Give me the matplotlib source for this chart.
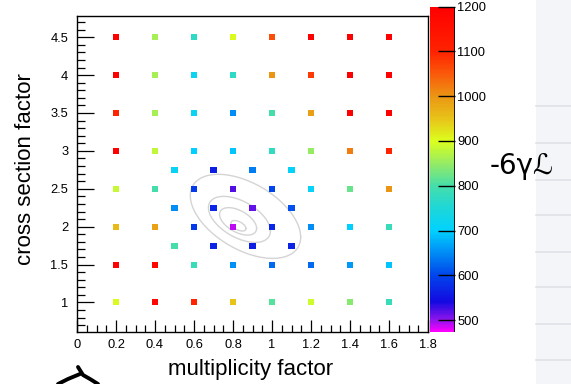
import numpy as np
import matplotlib
matplotlib.use("Agg")
import matplotlib.pyplot as plt
from matplotlib.colors import LinearSegmentedColormap, Normalize
from matplotlib.lines import Line2D
from matplotlib.patches import Rectangle

plt.rcParams['font.family'] = ['Liberation Sans', 'DejaVu Sans']

# ---------------- data ----------------
grid_x = [0.2, 0.4, 0.6, 0.8, 1.0, 1.2, 1.4, 1.6]
grid_y = [1.0, 1.5, 2.0, 2.5, 3.0, 3.5, 4.0, 4.5]
grid_vals = [
    [905, 1180, 1100, 950, 810, 890, 840, 785],     # y = 1.0
    [1200, 1180, 785, 655, 625, 625, 660, 690],     # y = 1.5
    [960, 985, 590, 490, 570, 650, 700, 785],       # y = 2.0
    [885, 800, 590, 520, 600, 710, 820, 1000],      # y = 2.5
    [1200, 880, 700, 690, 775, 850, 1020, 1100],    # y = 3.0
    [1100, 860, 720, 650, 800, 990, 1200, 1200],    # y = 3.5
    [1200, 860, 720, 770, 1000, 1080, 1200, 1200],  # y = 4.0
    [1200, 860, 770, 905, 1060, 1200, 1200, 1200],  # y = 4.5
]
fine_x = [0.5, 0.7, 0.9, 1.1]
fine_y = [1.75, 2.25, 2.75]
fine_vals = [
    [800, 565, 560, 565],   # y = 1.75
    [650, 570, 515, 610],   # y = 2.25
    [715, 560, 640, 705],   # y = 2.75
]

# contour ellipses: centre x, centre y, half-width x, half-height y, tilt
contour_cx = [0.828, 0.826, 0.833, 0.864]
contour_cy = [2.012, 2.070, 2.096, 2.136]
contour_rx = [0.0386, 0.095, 0.159, 0.283]
contour_ry = [0.059, 0.156, 0.262, 0.483]
contour_tilt = [-0.037, -0.092, -0.154, -0.273]

xtick_vals = [0, 0.2, 0.4, 0.6, 0.8, 1.0, 1.2, 1.4, 1.6, 1.8]
xtick_labels = ["0", "0.2", "0.4", "0.6", "0.8", "1", "1.2", "1.4", "1.6", "1.8"]
ytick_vals = [1, 1.5, 2, 2.5, 3, 3.5, 4, 4.5]
ytick_labels = ["1", "1.5", "2", "2.5", "3", "3.5", "4", "4.5"]
cbar_ticks = [500, 600, 700, 800, 900, 1000, 1100, 1200]
zmin, zmax = 474, 1200

# palette (ROOT "pretty" rainbow)
pal_vals = [474, 500, 540, 600, 650, 700, 750, 800, 850, 900, 950, 1000, 1050, 1100, 1200]
pal_cols = ["#fa00ff", "#8c14eb", "#140ae1", "#0046eb", "#008cf5", "#00d2ff",
            "#1ed7d7", "#46deaa", "#96eb64", "#dcff1e", "#e8c319", "#eb9614",
            "#fa5a0a", "#ff2300", "#ff0000"]

# ---------------- figure ----------------
W, H = 571, 384
fig = plt.figure(figsize=(W / 100, H / 100), dpi=100)
fig.patch.set_facecolor("white")

# lined-paper strip on the right
fig.patches.append(Rectangle((536 / W, 0), 1 - 536 / W, 1, transform=fig.transFigure,
                             facecolor="#f4f5f9", edgecolor="none", zorder=0))
for ly in [106, 143, 180, 215, 252, 287, 324, 360]:
    fig.lines.append(Line2D([536 / W, 1], [1 - ly / H, 1 - ly / H], transform=fig.transFigure,
                            color="#dfe1e8", lw=1.2, zorder=0.5))

ax = fig.add_axes([77 / W, 1 - 332 / H, (428 - 77) / W, (332 - 16) / H])
cmap = LinearSegmentedColormap.from_list(
    "pretty", [((v - zmin) / (zmax - zmin), c) for v, c in zip(pal_vals, pal_cols)])
norm = Normalize(vmin=zmin, vmax=zmax)

gx, gy = np.meshgrid(grid_x, grid_y)
ax.scatter(gx.ravel(), gy.ravel(), c=np.array(grid_vals).ravel(), cmap=cmap, norm=norm,
           marker="s", s=19, linewidths=0, zorder=3)
fx, fy = np.meshgrid(fine_x, fine_y)
sc = ax.scatter(fx.ravel(), fy.ravel(), c=np.array(fine_vals).ravel(), cmap=cmap, norm=norm,
                marker="s", s=19, linewidths=0, zorder=3)

t = np.linspace(0, 2 * np.pi, 300)
for cx, cy, rx, ry, k in zip(contour_cx, contour_cy, contour_rx, contour_ry, contour_tilt):
    ax.plot(cx + rx * np.cos(t), cy + ry * np.sin(t) + k * np.cos(t),
            color="#d4d4d4", lw=1.0, zorder=2)

ax.set_xlim(0, 1.8)
ax.set_ylim(0.61, 4.78)
ax.set_xticks(xtick_vals)
ax.set_xticklabels(xtick_labels)
ax.set_yticks(ytick_vals)
ax.set_yticklabels(ytick_labels)
ax.set_xticks(np.arange(0, 1.8001, 0.05), minor=True)
ax.set_yticks(np.arange(0.7, 4.78, 0.1), minor=True)
ax.tick_params(axis="both", which="both", direction="in", top=False, right=False,
               labelsize=9.3, colors="black", width=0.9)
ax.tick_params(axis="y", which="major", length=12, pad=6.3)
ax.tick_params(axis="y", which="minor", length=6)
ax.tick_params(axis="x", which="major", length=9, pad=5)
ax.tick_params(axis="x", which="minor", length=5)
for s in ax.spines.values():
    s.set_linewidth(1.0)
ax.set_xlabel("multiplicity factor", fontsize=16)
ax.xaxis.set_label_coords(0.495, -0.087)
ax.set_ylabel("cross section factor", fontsize=16)
ax.yaxis.set_label_coords(-0.117, 0.516)

# colour bar
cax = fig.add_axes([430 / W, 1 - 331.7 / H, 25 / W, (331.7 - 6.7) / H])
cb = fig.colorbar(sc, cax=cax, ticks=cbar_ticks)
cb.outline.set_visible(False)
cax.axvline(1, color="black", lw=1.2)
cax.tick_params(direction="in", length=12, width=1.0, labelsize=9.3, pad=1.5, right=True)
cb.ax.set_yticklabels([str(v) for v in cbar_ticks])

# handwritten annotations
fig.text(490 / W, 1 - 174 / H, "-6γℒ", fontsize=20, family=["DejaVu Sans"],
         color="black", ha="left", va="baseline")
fig.lines.append(Line2D(np.array([58, 68, 80]) / W,
                        1 - np.array([384, 379, 374]) / H,
                        transform=fig.transFigure, color="black", lw=2.8,
                        solid_capstyle="round"))
fig.lines.append(Line2D(np.array([78, 83, 90, 98]) / W,
                        1 - np.array([367, 375, 379, 384]) / H,
                        transform=fig.transFigure, color="black", lw=2.8,
                        solid_capstyle="round"))

fig.savefig("out.png", dpi=100)
